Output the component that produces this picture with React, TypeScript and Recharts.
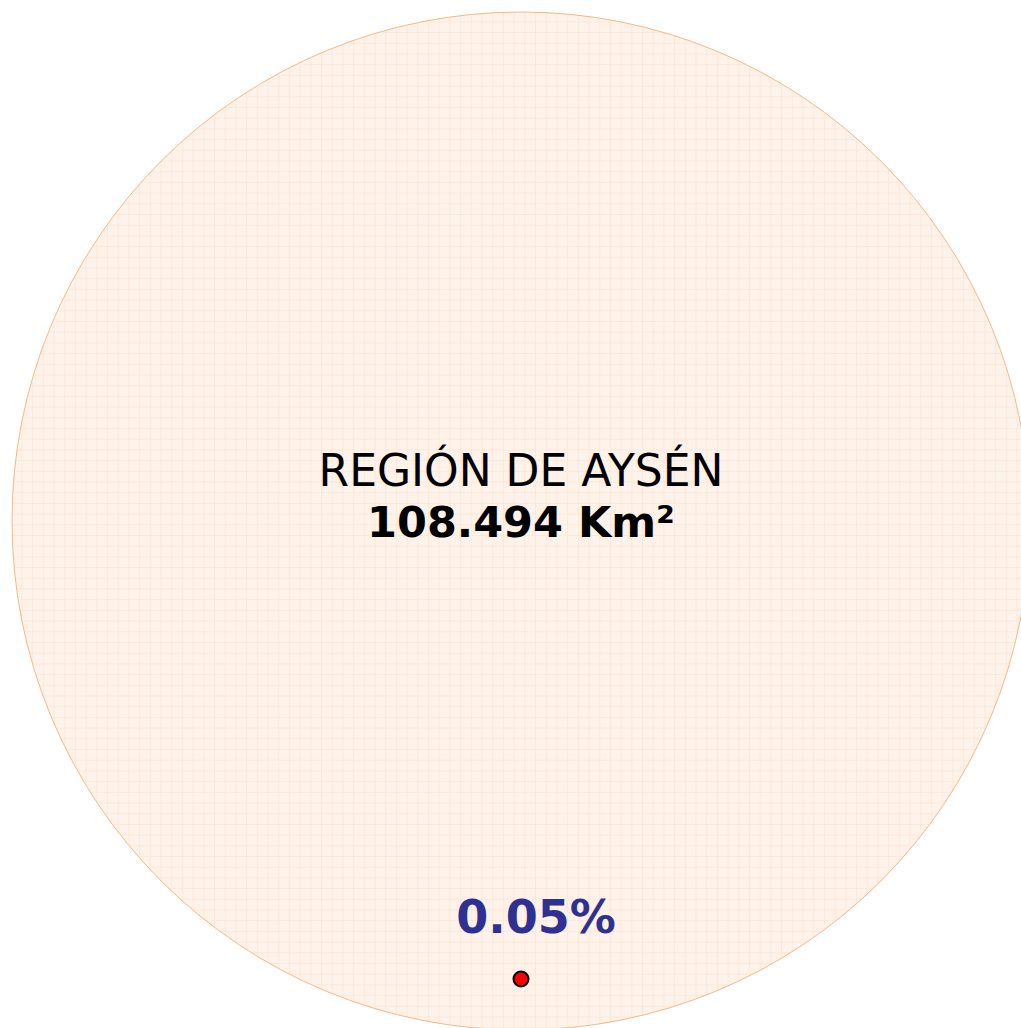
import React from 'react';
import { PieChart, Pie, Cell } from 'recharts';

// region area and its share marker
const regionNames = ['REGIÓN DE AYSÉN'];
const areaValues = [108494];
const areaLabels = ['108.494 Km²'];
const shareValues = [54];
const shareLabels = ['0.05%'];

const W = 1021;
const H = 1028;
const FONT = 'DejaVu Sans, Verdana, sans-serif';

const regionData = regionNames.map((name, i) => ({ name, value: areaValues[i] }));
const shareData = shareLabels.map((name, i) => ({ name, value: shareValues[i] }));

// outline + centred title drawn from the pie's own geometry
const renderRegionLabel = (props: any) => {
  const { cx, cy, outerRadius, index } = props;
  return (
    <g key={`rl-${index}`}>
      <circle cx={cx} cy={cy} r={outerRadius} fill="none" stroke="#f7b886" strokeWidth={1} />
      <text x={cx} y={cy - 35} textAnchor="middle" fontFamily={FONT} fontSize={44} fill="#000">
        {regionNames[index]}
      </text>
      <text x={cx} y={cy + 16} textAnchor="middle" fontFamily={FONT} fontSize={43} fontWeight="bold" fill="#000">
        {areaLabels[index]}
      </text>
    </g>
  );
};

const renderShareLabel = (props: any) => {
  const { cx, cy, index } = props;
  return (
    <text key={`sl-${index}`} x={cx + 15} y={cy - 46} textAnchor="middle" fontFamily={FONT} fontSize={46} fontWeight="bold" fill="#2e3192">
      {shareLabels[index]}
    </text>
  );
};

const App: React.FC = () => {
  return (
    <div style={{ position: 'absolute', left: 0, top: 0, width: W, height: H, background: '#fff' }}>
      <PieChart width={W} height={H} margin={{ top: 0, right: 0, bottom: 0, left: 0 }}>
        <defs>
          <pattern id="grid" width={10.7} height={10.7} patternUnits="userSpaceOnUse">
            <rect width={10.7} height={10.7} fill="#fef3ea" />
            <line x1={0} y1={0.5} x2={10.7} y2={0.5} stroke="#fde8d8" strokeWidth={1} />
            <line x1={0.5} y1={0} x2={0.5} y2={10.7} stroke="#fde8d8" strokeWidth={1} />
            <line x1={0} y1={5.85} x2={10.7} y2={5.85} stroke="#fdede1" strokeWidth={0.6} strokeDasharray="1 2" />
            <line x1={5.85} y1={0} x2={5.85} y2={10.7} stroke="#fdede1" strokeWidth={0.6} strokeDasharray="1 2" />
          </pattern>
        </defs>
        <Pie
          data={regionData}
          dataKey="value"
          nameKey="name"
          cx={521}
          cy={521}
          innerRadius={0}
          outerRadius={509}
          startAngle={90}
          endAngle={-270}
          stroke="none"
          label={renderRegionLabel}
          labelLine={false}
          isAnimationActive={false}
        >
          {regionData.map((_, i) => (
            <Cell key={`region-${i}`} fill="url(#grid)" stroke="none" />
          ))}
        </Pie>
        <Pie
          data={shareData}
          dataKey="value"
          nameKey="name"
          cx={521}
          cy={979}
          innerRadius={0}
          outerRadius={0.1}
          stroke="none"
          label={renderShareLabel}
          labelLine={false}
          isAnimationActive={false}
        >
          {shareData.map((_, i) => (
            <Cell key={`share-${i}`} fill="#ff0000" />
          ))}
        </Pie>
      </PieChart>
      {/* red marker: circle sized like the reference dot */}
      <svg width={W} height={H} style={{ position: 'absolute', left: 0, top: 0, pointerEvents: 'none' }}>
        <circle cx={521} cy={979} r={7.5} fill="#ff0000" stroke="#000" strokeWidth={2} />
      </svg>
    </div>
  );
};

export default App;
